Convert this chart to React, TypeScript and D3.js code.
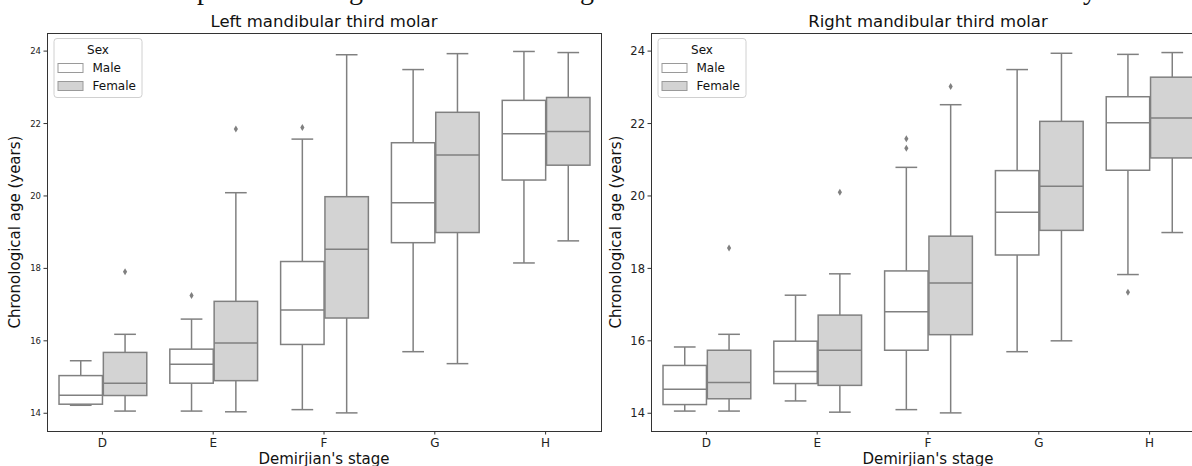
import React, { useEffect, useRef } from 'react';
import * as d3 from 'd3';

// Demirjian's stages on the x axis
const stages = ['D', 'E', 'F', 'G', 'H'];
const sexes = ['Male', 'Female'];
const yTicks = [14, 16, 18, 20, 22, 24];

// each row: [lower whisker, Q1, median, Q3, upper whisker]
const leftMale = [
    [14.22, 14.25, 14.50, 15.04, 15.45],
    [14.06, 14.83, 15.35, 15.77, 16.60],
    [14.10, 15.90, 16.85, 18.19, 21.57],
    [15.70, 18.71, 19.81, 21.47, 23.49],
    [18.15, 20.44, 21.72, 22.64, 23.99],
];
const leftFemale = [
    [14.06, 14.49, 14.83, 15.68, 16.18],
    [14.04, 14.90, 15.94, 17.09, 20.09],
    [14.01, 16.63, 18.53, 19.98, 23.90],
    [15.37, 18.99, 21.13, 22.31, 23.93],
    [18.76, 20.85, 21.78, 22.72, 23.96],
];
const rightMale = [
    [14.06, 14.24, 14.66, 15.32, 15.83],
    [14.34, 14.82, 15.15, 15.99, 17.26],
    [14.10, 15.74, 16.80, 17.93, 20.79],
    [15.70, 18.37, 19.55, 20.70, 23.49],
    [17.83, 20.71, 22.02, 22.74, 23.91],
];
const rightFemale = [
    [14.06, 14.40, 14.85, 15.74, 16.18],
    [14.03, 14.77, 15.74, 16.71, 17.85],
    [14.01, 16.17, 17.60, 18.89, 22.52],
    [16.00, 19.05, 20.27, 22.06, 23.94],
    [18.99, 21.05, 22.15, 23.28, 23.96],
];

// outliers: [stage, value]
const leftMaleOutliers = [['E', 17.25], ['F', 21.89]];
const leftFemaleOutliers = [['D', 17.91], ['E', 21.85]];
const rightMaleOutliers = [['F', 21.58], ['F', 21.32], ['H', 17.34]];
const rightFemaleOutliers = [['D', 18.56], ['E', 20.10], ['F', 23.02]];

const FONT = "'DejaVu Sans', sans-serif";
const LINE = '#808080';
const fills = { Male: '#ffffff', Female: '#d3d3d3' };

const drawPanel = (svg, opts) => {
    const { left, right, top, bottom, title, tickFont, yLabelX, data, outliers } = opts;

    const x = d3.scaleBand().domain(stages).range([left, right]);
    const sub = d3.scaleBand().domain(sexes).range([x.bandwidth() * 0.1, x.bandwidth() * 0.9]);
    const y = d3.scaleLinear().domain([13.51, 24.5]).range([bottom, top]);
    const g = svg.append('g');

    // Boxes
    sexes.forEach(sex => {
        data[sex].forEach((s, i) => {
            const [lo, q1, med, q3, hi] = s;
            const cx = x(stages[i]) + sub(sex) + sub.bandwidth() / 2 + 0.5;
            const w = sub.bandwidth() * 0.98;
            const cap = w / 2;
            const bg = g.append('g')
                .attr('stroke', LINE)
                .attr('stroke-width', 1.5)
                .attr('fill', 'none');
            bg.append('line').attr('x1', cx).attr('x2', cx).attr('y1', y(q3)).attr('y2', y(hi));
            bg.append('line').attr('x1', cx).attr('x2', cx).attr('y1', y(q1)).attr('y2', y(lo));
            bg.append('line').attr('x1', cx - cap / 2).attr('x2', cx + cap / 2).attr('y1', y(hi)).attr('y2', y(hi));
            bg.append('line').attr('x1', cx - cap / 2).attr('x2', cx + cap / 2).attr('y1', y(lo)).attr('y2', y(lo));
            bg.append('rect')
                .attr('x', cx - w / 2)
                .attr('y', y(q3))
                .attr('width', w)
                .attr('height', y(q1) - y(q3))
                .attr('fill', fills[sex]);
            bg.append('line').attr('x1', cx - w / 2).attr('x2', cx + w / 2).attr('y1', y(med)).attr('y2', y(med));
        });

        // Outliers (thin diamonds)
        g.selectAll(null)
            .data(outliers[sex])
            .enter()
            .append('path')
            .attr('transform', d => `translate(${x(d[0]) + sub(sex) + sub.bandwidth() / 2 + 0.5},${y(d[1])})`)
            .attr('d', 'M0,-3.5L2.1,0L0,3.5L-2.1,0Z')
            .attr('fill', LINE);
    });

    // Spines
    g.append('rect')
        .attr('x', left + 0.5)
        .attr('y', top + 0.5)
        .attr('width', right - left)
        .attr('height', bottom - top)
        .attr('fill', 'none')
        .attr('stroke', '#333')
        .attr('stroke-width', 1);

    // Y ticks
    yTicks.forEach(t => {
        g.append('line')
            .attr('x1', left - 3.5).attr('x2', left)
            .attr('y1', y(t)).attr('y2', y(t))
            .attr('stroke', '#333');
        g.append('text')
            .attr('x', left - 6)
            .attr('y', y(t))
            .attr('dy', '0.36em')
            .attr('text-anchor', 'end')
            .attr('font-family', FONT)
            .attr('font-size', tickFont)
            .attr('fill', '#222')
            .text(t);
    });

    // X ticks
    stages.forEach(s => {
        const cx = x(s) + x.bandwidth() / 2;
        g.append('line')
            .attr('x1', cx).attr('x2', cx)
            .attr('y1', bottom).attr('y2', bottom + 3.5)
            .attr('stroke', '#333');
        g.append('text')
            .attr('x', cx)
            .attr('y', bottom + 15.5)
            .attr('text-anchor', 'middle')
            .attr('font-family', FONT)
            .attr('font-size', 12)
            .attr('fill', '#222')
            .text(s);
    });

    // Titles / labels
    g.append('text')
        .attr('x', (left + right) / 2)
        .attr('y', top - 6)
        .attr('text-anchor', 'middle')
        .attr('font-family', FONT)
        .attr('font-size', 16.5)
        .attr('fill', '#111')
        .text(title);

    g.append('text')
        .attr('x', (left + right) / 2)
        .attr('y', 464)
        .attr('text-anchor', 'middle')
        .attr('font-family', FONT)
        .attr('font-size', 15)
        .attr('fill', '#111')
        .text("Demirjian's stage");

    g.append('text')
        .attr('transform', `translate(${yLabelX},${(top + bottom) / 2}) rotate(-90)`)
        .attr('text-anchor', 'middle')
        .attr('font-family', FONT)
        .attr('font-size', 15)
        .attr('fill', '#111')
        .text('Chronological age (years)');

    // Legend
    const lx = left + 6.5;
    const ly = top + 5;
    const lg = g.append('g').attr('transform', `translate(${lx},${ly})`);
    lg.append('rect')
        .attr('x', 0.5).attr('y', 0.5)
        .attr('width', 88).attr('height', 59)
        .attr('rx', 3)
        .attr('fill', '#fff')
        .attr('fill-opacity', 0.8)
        .attr('stroke', '#d0d0d0');
    lg.append('text')
        .attr('x', 44.5)
        .attr('y', 16)
        .attr('text-anchor', 'middle')
        .attr('font-family', FONT)
        .attr('font-size', 12)
        .attr('fill', '#111')
        .text('Sex');
    sexes.forEach((sex, i) => {
        const py = 25 + i * 18;
        lg.append('rect')
            .attr('x', 4.5).attr('y', py + 0.5)
            .attr('width', 25).attr('height', 9)
            .attr('fill', fills[sex])
            .attr('stroke', '#9a9a9a');
        lg.append('text')
            .attr('x', 39)
            .attr('y', py + 9.3)
            .attr('font-family', FONT)
            .attr('font-size', 12)
            .attr('fill', '#111')
            .text(sex);
    });
};

const App = () => {
    const svgRef = useRef(null);

    useEffect(() => {
        const svg = d3.select(svgRef.current);
        svg.selectAll('*').remove();

        svg.append('rect').attr('width', 1192).attr('height', 466).attr('fill', '#fff');

        // cropped figure caption above the panels (only descenders visible in the reference)
        [['p', 197], ['g', 349], ['g', 580], ['y', 1083]].forEach(([ch, px]) => {
            svg.append('text')
                .attr('x', px)
                .attr('y', -1)
                .attr('font-family', "'Liberation Serif', serif")
                .attr('font-size', 28)
                .attr('fill', '#111')
                .text(ch);
        });

        drawPanel(svg, {
            left: 47, right: 601, top: 33, bottom: 431,
            title: 'Left mandibular third molar',
            tickFont: 8.5,
            yLabelX: 20,
            data: { Male: leftMale, Female: leftFemale },
            outliers: { Male: leftMaleOutliers, Female: leftFemaleOutliers },
        });
        drawPanel(svg, {
            left: 651, right: 1205, top: 33, bottom: 431,
            title: 'Right mandibular third molar',
            tickFont: 11.5,
            yLabelX: 621,
            data: { Male: rightMale, Female: rightFemale },
            outliers: { Male: rightMaleOutliers, Female: rightFemaleOutliers },
        });
    }, []);

    return (
        <svg
            ref={svgRef}
            width={1192}
            height={466}
            style={{ position: 'absolute', left: 0, top: 0, display: 'block' }}
        />
    );
};

export default App;
